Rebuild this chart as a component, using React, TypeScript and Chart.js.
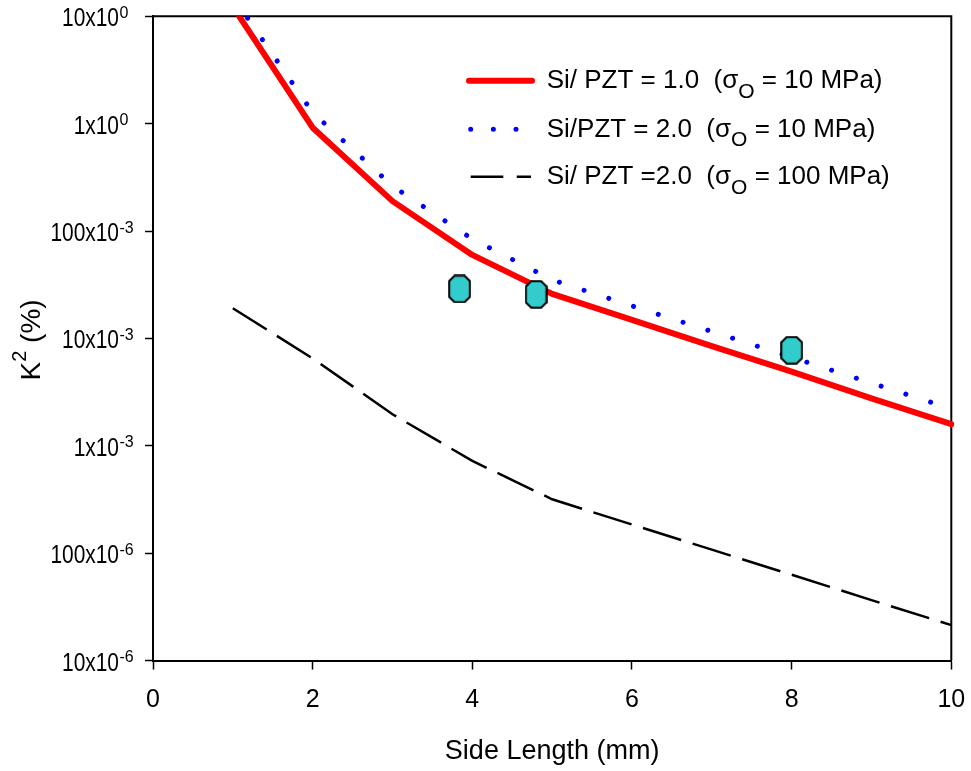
import React, { useEffect, useRef } from "react";
import { Chart, registerables } from "chart.js";

Chart.register(...registerables);

const FONT = '"Liberation Sans", Arial, Helvetica, sans-serif';

// ---- data ----
const sideLength = [1, 2, 3, 4, 5, 6, 7, 8, 9, 10];
const k2SiPzt1_10MPa = [12.3, 0.918, 0.19, 0.06, 0.026, 0.0149, 0.0085, 0.0049, 0.00277, 0.00159];
const k2SiPzt2_10MPa = [15.2, 1.27, 0.263, 0.0843, 0.0351, 0.0201, 0.0116, 0.00667, 0.00384, 0.00221];
const k2SiPzt2_100MPa = [0.0191, 0.00652, 0.00197, 0.000724, 0.000318, 0.000185, 0.000108, 0.000063, 0.0000366, 0.0000214];
const measuredSide = [3.84, 4.8, 8.0];
const measuredK2 = [0.0289, 0.0257, 0.00776];

const yTickValues = [10, 1, 0.1, 0.01, 0.001, 0.0001, 0.00001];
const yTickMantissa = ["10", "1", "100", "10", "1", "100", "10"];
const yTickExponent = ["0", "0", "-3", "-3", "-3", "-6", "-6"];

const legendHead = ["Si/ PZT = 1.0  (\u03c3", "Si/PZT = 2.0  (\u03c3", "Si/ PZT =2.0  (\u03c3"];
const legendSub = ["O", "O", "O"];
const legendTail = [" = 10 MPa)", " = 10 MPa)", " = 100 MPa)"];

const xTitle = "Side Length (mm)";
const yTitleMain = "K";
const yTitleSup = "2";
const yTitleTail = " (%)";

function pts(xs: number[], ys: number[]) {
  return xs.map((x, i) => ({ x, y: ys[i] }));
}

function makeOctagon(): HTMLCanvasElement {
  const c = document.createElement("canvas");
  c.width = 23;
  c.height = 29;
  const g = c.getContext("2d")!;
  g.beginPath();
  const p = [
    [6.5, 1.2], [16.5, 1.2], [21.8, 6.5], [21.8, 22.5],
    [16.5, 27.8], [6.5, 27.8], [1.2, 22.5], [1.2, 6.5],
  ];
  p.forEach(([x, y], i) => (i ? g.lineTo(x, y) : g.moveTo(x, y)));
  g.closePath();
  g.fillStyle = "#33CCCC";
  g.fill();
  g.lineWidth = 2;
  g.strokeStyle = "#000";
  g.stroke();
  return c;
}

const overlayPlugin = {
  id: "overlay",
  beforeDatasetsDraw(chart: any) {
    const { ctx, chartArea: a } = chart;
    ctx.save();
    ctx.strokeStyle = "#000";
    ctx.lineWidth = 2;
    ctx.beginPath();
    ctx.moveTo(a.left, a.top);
    ctx.lineTo(a.right, a.top);
    ctx.lineTo(a.right, a.bottom);
    ctx.stroke();
    ctx.restore();
  },
  afterDraw(chart: any) {
    const { ctx, chartArea: a } = chart;
    const ys = chart.scales.y;
    ctx.save();
    ctx.fillStyle = "#000";
    // y tick labels with superscript exponents
    yTickValues.forEach((v, i) => {
      const py = ys.getPixelForValue(v);
      ctx.save();
      ctx.font = `25.5px ${FONT}`;
      ctx.textAlign = "right";
      ctx.textBaseline = "alphabetic";
      ctx.translate(a.left - 34, py + 10);
      ctx.scale(0.82, 1);
      ctx.fillText(yTickMantissa[i] + "x10", 0, 0);
      ctx.restore();
      ctx.save();
      ctx.font = `16px ${FONT}`;
      ctx.textAlign = "left";
      ctx.textBaseline = "alphabetic";
      ctx.fillText(yTickExponent[i], a.left - 33.5, py + 1.6);
      ctx.restore();
    });

    // y axis title (rotated) with superscript
    ctx.save();
    const cy = (a.top + a.bottom) / 2 + 1.5;
    ctx.translate(40, cy);
    ctx.rotate(-Math.PI / 2);
    ctx.textAlign = "left";
    ctx.textBaseline = "alphabetic";
    ctx.font = `28px ${FONT}`;
    const wK = ctx.measureText(yTitleMain).width;
    const wT = ctx.measureText(yTitleTail).width;
    ctx.font = `20px ${FONT}`;
    const wS = ctx.measureText(yTitleSup).width;
    let x0 = -(wK + wS + wT) / 2;
    ctx.font = `28px ${FONT}`;
    ctx.fillText(yTitleMain, x0, 0);
    x0 += wK;
    ctx.font = `20px ${FONT}`;
    ctx.fillText(yTitleSup, x0, -14);
    x0 += wS;
    ctx.font = `28px ${FONT}`;
    ctx.fillText(yTitleTail, x0, 0);
    ctx.restore();

    // legend
    const rowY = [80.7, 129.3, 176.7];
    const ds = chart.data.datasets;
    for (let i = 0; i < 3; i++) {
      const d = ds[i];
      const y = rowY[i];
      ctx.save();
      ctx.strokeStyle = d.borderColor;
      ctx.lineWidth = d.borderWidth;
      ctx.lineCap = d.borderCapStyle || "butt";
      ctx.beginPath();
      if (i === 1) {
        ctx.moveTo(470.7, y);
        ctx.lineTo(518, y);
        ctx.setLineDash([0.01, 22.65]);
      } else if (i === 2) {
        ctx.moveTo(470.7, y);
        ctx.lineTo(531, y);
        ctx.setLineDash([32.6, 13.4]);
      } else {
        ctx.moveTo(469, y);
        ctx.lineTo(532, y);
      }
      ctx.stroke();
      ctx.restore();

      let tx = 546.7;
      const by = y + 7.5;
      ctx.textAlign = "left";
      ctx.textBaseline = "alphabetic";
      ctx.font = `26px ${FONT}`;
      ctx.fillText(legendHead[i], tx, by);
      tx += ctx.measureText(legendHead[i]).width;
      ctx.font = `21px ${FONT}`;
      ctx.fillText(legendSub[i], tx, by + 9.5);
      tx += ctx.measureText(legendSub[i]).width;
      ctx.font = `26px ${FONT}`;
      ctx.fillText(legendTail[i], tx, by);
    }
    ctx.restore();
  },
};

export default function App() {
  const ref = useRef<HTMLCanvasElement | null>(null);

  useEffect(() => {
    if (!ref.current) return;
    Chart.defaults.font.family = FONT;
    Chart.defaults.color = "#000";
    const octagon = makeOctagon();
    const chart = new Chart(ref.current, {
      type: "line",
      data: {
        datasets: [
          {
            label: "Si/ PZT = 1.0 (σO = 10 MPa)",
            data: pts(sideLength, k2SiPzt1_10MPa),
            borderColor: "#FF0000",
            borderWidth: 6,
            borderCapStyle: "round",
            borderJoinStyle: "round",
            pointRadius: 0,
            tension: 0,
            fill: false,
            order: 3,
            clip: { left: 0, top: 0, right: 3, bottom: 0 },
          } as any,
          {
            label: "Si/PZT = 2.0 (σO = 10 MPa)",
            data: pts(sideLength, k2SiPzt2_10MPa),
            borderColor: "#0000FF",
            borderWidth: 5,
            borderCapStyle: "round",
            borderDash: [0.01, 26],
            pointRadius: 0,
            tension: 0,
            fill: false,
            order: 2,
            clip: 0,
          } as any,
          {
            label: "Si/ PZT =2.0 (σO = 100 MPa)",
            data: pts(sideLength, k2SiPzt2_100MPa),
            borderColor: "#000000",
            borderWidth: 2.5,
            borderCapStyle: "butt",
            borderDash: [40, 12],
            pointRadius: 0,
            tension: 0,
            fill: false,
            order: 1,
            clip: 0,
          } as any,
          {
            label: "measured",
            data: pts(measuredSide, measuredK2),
            showLine: false,
            pointStyle: octagon,
            pointRadius: 12,
            order: 0,
            clip: false,
          } as any,
        ],
      },
      options: {
        responsive: false,
        animation: false,
        devicePixelRatio: 1,
        layout: { padding: { left: 0, right: 19.7, top: 16.3, bottom: 0 } },
        plugins: {
          legend: { display: false },
          tooltip: { enabled: false },
          title: { display: false },
        },
        events: [],
        scales: {
          x: {
            type: "linear",
            min: 0,
            max: 10,
            ticks: { stepSize: 2, font: { size: 25 }, color: "#000", padding: 16, maxRotation: 0 },
            grid: {
              drawOnChartArea: false,
              drawTicks: true,
              tickLength: 9,
              tickColor: "#000",
              tickWidth: 1.5,
            },
            border: { display: true, color: "#000", width: 2 },
            title: {
              display: true,
              text: xTitle,
              font: { size: 27 },
              color: "#000",
              padding: { top: 0, bottom: 3 },
            },
            afterFit: (s: any) => {
              s.height = 110.4;
              s.paddingLeft = 0;
              s.paddingRight = 0;
            },
          },
          y: {
            type: "logarithmic",
            min: 0.00001,
            max: 10,
            afterBuildTicks: (s: any) => {
              s.ticks = yTickValues.map((v) => ({ value: v }));
            },
            ticks: { display: false },
            grid: {
              drawOnChartArea: false,
              drawTicks: true,
              tickLength: 8,
              tickColor: "#000",
              tickWidth: 1.5,
            },
            border: { display: true, color: "#000", width: 2 },
            afterFit: (s: any) => {
              s.width = 153;
              s.paddingTop = 0;
              s.paddingBottom = 0;
            },
          },
        },
      } as any,
      plugins: [overlayPlugin],
    });
    return () => chart.destroy();
  }, []);

  return (
    <div style={{ position: "absolute", left: 0, top: 0, width: 971, height: 771, background: "#fff" }}>
      <canvas ref={ref} width={971} height={771} style={{ display: "block", width: 971, height: 771 }} />
    </div>
  );
}
